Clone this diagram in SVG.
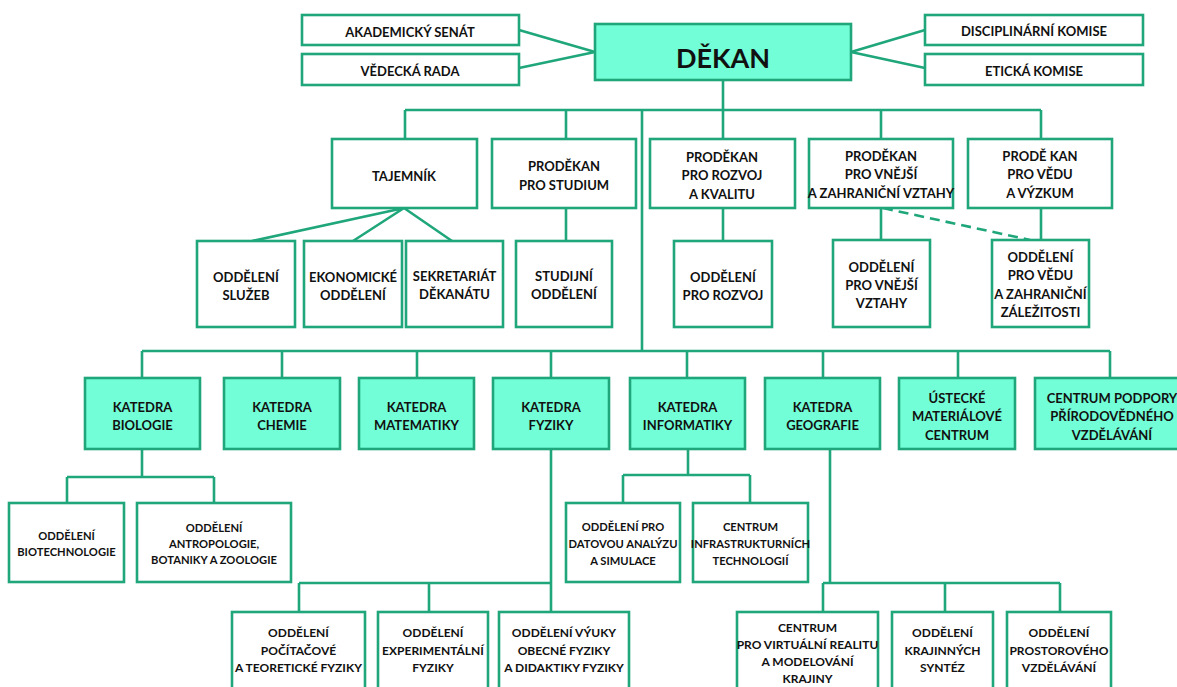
<svg xmlns="http://www.w3.org/2000/svg" width="1177" height="687" viewBox="0 0 1177 687">
<style>
.b{fill:#fff;stroke:#1fa67a;stroke-width:2.6}
.k{fill:#72ffd7;stroke:#1fa67a;stroke-width:2.6}
.c{fill:none;stroke:#1fa67a;stroke-width:2.6}
.d{fill:none;stroke:#1fa67a;stroke-width:2.6;stroke-dasharray:10 6}
text{font-family:Lato,"Open Sans","Noto Sans",sans-serif;font-weight:bold;fill:#111;text-anchor:middle;font-size:13px}
.s{font-size:12px}
.x{font-size:11.2px}
.big{font-size:27px}
</style>
<rect width="1177" height="687" fill="#fff"/>
<g id="connectors">
<path class="c" d="M519 30L595 52L519 68M925 30L851 52L925 68"/>
<path class="c" d="M723 80V241M405 110H1041M405 110V139M566 110V139M881 110V139M1041 110V139"/>
<path class="c" d="M404 208L252 241M404 208L353 241M404 208L452 241M566 208V241M881 208V240M1041 208V240"/>
<path class="d" d="M883 208L1030 240"/>
<path class="c" d="M642 110V351M142 351H1110M142 351V378M282 351V378M417 351V378M551 351V378M687 351V378M823 351V378M958 351V378M1110 351V378"/>
<path class="c" d="M142 449V477M67 477H214M67 477V503M214 477V503"/>
<path class="c" d="M688 449V475M623 475H750M623 475V503M750 475V503"/>
<path class="c" d="M551 449V612M299 583H551M299 583V612M429 583V612"/>
<path class="c" d="M830 449V583M823 583H1060M823 583V612M945 583V612M1060 583V612"/>
</g>
<g id="akademicky-senat"><rect class="b" x="302" y="15" width="217" height="30"/><text x="410" y="36.5">AKADEMICKÝ SENÁT</text></g>
<g id="vedecka-rada"><rect class="b" x="302" y="54" width="217" height="31"/><text x="410" y="76">VĚDECKÁ RADA</text></g>
<g id="dekan"><rect class="k" x="595" y="24" width="256" height="56"/><text class="big" x="723" y="67.5">DĚKAN</text></g>
<g id="disciplinarni-komise"><rect class="b" x="925" y="15" width="218" height="30"/><text x="1034" y="35.5">DISCIPLINÁRNÍ KOMISE</text></g>
<g id="eticka-komise"><rect class="b" x="925" y="54" width="218" height="31"/><text x="1034" y="75.5">ETICKÁ KOMISE</text></g>

<g id="tajemnik"><rect class="b" x="332" y="139" width="145" height="69"/><text x="404" y="180.5">TAJEMNÍK</text></g>
<g id="prodekan-studium"><rect class="b" x="492" y="139" width="144" height="69"/><text x="564" y="170.5">PRODĚKAN</text><text x="564" y="189.5">PRO STUDIUM</text></g>
<g id="prodekan-rozvoj"><rect class="b" x="650" y="139" width="145" height="69"/><text x="722" y="161.5">PRODĚKAN</text><text x="722" y="180">PRO ROZVOJ</text><text x="722" y="198.5">A  KVALITU</text></g>
<g id="prodekan-vnejsi"><rect class="b" x="809" y="139" width="144" height="69"/><text x="881" y="160.5">PRODĚKAN</text><text x="881" y="179">PRO VNĚJŠÍ</text><text x="881" y="197.5">A ZAHRANIČNÍ VZTAHY</text></g>
<g id="prodekan-veda"><rect class="b" x="968" y="139" width="144" height="69"/><text x="1040" y="160.5">PRODĚ KAN</text><text x="1040" y="179">PRO VĚDU</text><text x="1040" y="197.5">A VÝZKUM</text></g>

<g id="oddeleni-sluzeb"><rect class="b" x="197" y="241" width="98" height="86"/><text x="246" y="281.5">ODDĚLENÍ</text><text x="246" y="299.5">SLUŽEB</text></g>
<g id="ekonomicke-oddeleni"><rect class="b" x="304" y="241" width="98" height="86"/><text x="353" y="281.5">EKONOMICKÉ</text><text x="353" y="299.5">ODDĚLENÍ</text></g>
<g id="sekretariat-dekanatu"><rect class="b" x="406" y="241" width="97" height="86"/><text x="454.5" y="280.5">SEKRETARIÁT</text><text x="454.5" y="298.5">DĚKANÁTU</text></g>
<g id="studijni-oddeleni"><rect class="b" x="516" y="241" width="96" height="86"/><text x="564" y="280.5">STUDIJNÍ</text><text x="564" y="298.5">ODDĚLENÍ</text></g>
<g id="oddeleni-rozvoj"><rect class="b" x="674" y="241" width="98" height="86"/><text x="723" y="281.5">ODDĚLENÍ</text><text x="723" y="299.5">PRO ROZVOJ</text></g>
<g id="oddeleni-vnejsi-vztahy"><rect class="b" x="833" y="240" width="97" height="87"/><text x="881.5" y="271.5">ODDĚLENÍ</text><text x="881.5" y="289.5">PRO VNĚJŠÍ</text><text x="881.5" y="308">VZTAHY</text></g>
<g id="oddeleni-veda-zahranici"><rect class="b" x="992" y="240" width="97" height="87"/><text x="1040.5" y="261.5">ODDĚLENÍ</text><text x="1040.5" y="280">PRO VĚDU</text><text x="1040.5" y="298.5">A ZAHRANIČNÍ</text><text x="1040.5" y="316.5">ZÁLEŽITOSTI</text></g>

<g id="katedra-biologie"><rect class="k" x="85" y="378" width="115" height="71"/><text x="142.5" y="411.5">KATEDRA</text><text x="142.5" y="429.5">BIOLOGIE</text></g>
<g id="katedra-chemie"><rect class="k" x="224" y="378" width="116" height="71"/><text x="282" y="411.5">KATEDRA</text><text x="282" y="429.5">CHEMIE</text></g>
<g id="katedra-matematiky"><rect class="k" x="359" y="378" width="115" height="71"/><text x="416.5" y="411.5">KATEDRA</text><text x="416.5" y="429.5">MATEMATIKY</text></g>
<g id="katedra-fyziky"><rect class="k" x="493" y="378" width="116" height="71"/><text x="551" y="411.5">KATEDRA</text><text x="551" y="429.5">FYZIKY</text></g>
<g id="katedra-informatiky"><rect class="k" x="630" y="378" width="115" height="71"/><text x="687.5" y="411.5">KATEDRA</text><text x="687.5" y="429.5">INFORMATIKY</text></g>
<g id="katedra-geografie"><rect class="k" x="765" y="378" width="115" height="71"/><text x="822.5" y="411.5">KATEDRA</text><text x="822.5" y="429.5">GEOGRAFIE</text></g>
<g id="ustecke-materialove-centrum"><rect class="k" x="899" y="378" width="116" height="71"/><text x="957" y="402.5">ÚSTECKÉ</text><text x="957" y="421">MATERIÁLOVÉ</text><text x="957" y="439.5">CENTRUM</text></g>
<g id="centrum-podpory"><rect class="k" x="1035" y="378" width="160" height="71"/><text x="1112" y="402.5">CENTRUM PODPORY</text><text x="1112" y="421">PŘÍRODOVĚDNÉHO</text><text x="1112" y="439.5">VZDĚLÁVÁNÍ</text></g>

<g id="oddeleni-biotechnologie"><rect class="b" x="9" y="503" width="115" height="79"/><text class="x" x="66.5" y="540">ODDĚLENÍ</text><text class="x" x="66.5" y="556">BIOTECHNOLOGIE</text></g>
<g id="oddeleni-antropologie"><rect class="b" x="137" y="503" width="154" height="79"/><text class="x" x="214" y="532">ODDĚLENÍ</text><text class="x" x="214" y="548">ANTROPOLOGIE,</text><text class="x" x="214" y="564">BOTANIKY A ZOOLOGIE</text></g>
<g id="oddeleni-datova-analyza"><rect class="b" x="566" y="503" width="114" height="79"/><text class="x" x="623" y="531">ODDĚLENÍ PRO</text><text class="x" x="623" y="548">DATOVOU ANALÝZU</text><text class="x" x="623" y="565">A SIMULACE</text></g>
<g id="centrum-infrastrukturnich"><rect class="b" x="693" y="503" width="115" height="79"/><text class="x" x="750.5" y="531">CENTRUM</text><text class="x" x="750.5" y="548">INFRASTRUKTURNÍCH</text><text class="x" x="750.5" y="565">TECHNOLOGIÍ</text></g>

<g id="oddeleni-pocitacove-fyziky"><rect class="b" x="232" y="612" width="133" height="80"/><text class="s" x="298.5" y="637">ODDĚLENÍ</text><text class="s" x="298.5" y="654.5">POČÍTAČOVÉ</text><text class="s" x="298.5" y="672">A TEORETICKÉ FYZIKY</text></g>
<g id="oddeleni-experimentalni-fyziky"><rect class="b" x="378" y="612" width="110" height="80"/><text class="s" x="433" y="637">ODDĚLENÍ</text><text class="s" x="433" y="654.5">EXPERIMENTÁLNÍ</text><text class="s" x="433" y="672">FYZIKY</text></g>
<g id="oddeleni-vyuky-fyziky"><rect class="b" x="499" y="612" width="130" height="80"/><text class="s" x="564" y="637">ODDĚLENÍ VÝUKY</text><text class="s" x="564" y="654.5">OBECNÉ FYZIKY</text><text class="s" x="564" y="672">A DIDAKTIKY FYZIKY</text></g>
<g id="centrum-virtualni-realita"><rect class="b" x="737" y="612" width="141" height="80"/><text class="s" x="807.5" y="632">CENTRUM</text><text class="s" x="807.5" y="649">PRO VIRTUÁLNÍ REALITU</text><text class="s" x="807.5" y="666">A MODELOVÁNÍ</text><text class="s" x="807.5" y="683">KRAJINY</text></g>
<g id="oddeleni-krajinnych-syntez"><rect class="b" x="892" y="612" width="101" height="80"/><text class="s" x="942.5" y="637">ODDĚLENÍ</text><text class="s" x="942.5" y="655">KRAJINNÝCH</text><text class="s" x="942.5" y="672">SYNTÉZ</text></g>
<g id="oddeleni-prostoroveho-vzdelavani"><rect class="b" x="1007" y="612" width="104" height="80"/><text class="s" x="1059" y="637">ODDĚLENÍ</text><text class="s" x="1059" y="655">PROSTOROVÉHO</text><text class="s" x="1059" y="672">VZDĚLÁVÁNÍ</text></g>
</svg>
